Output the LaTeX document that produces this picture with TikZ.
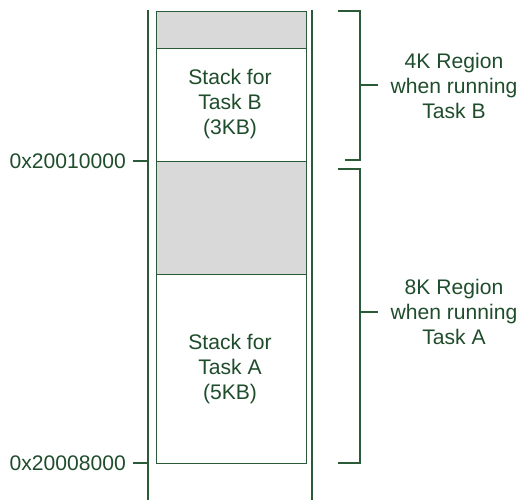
\documentclass[tikz,border=0pt]{standalone}
\usepackage{fontspec}
\setmainfont{Liberation Sans}
\definecolor{dg}{HTML}{2A5A38}
\definecolor{tg}{HTML}{1F4D2C}
\definecolor{gfill}{HTML}{D9D9D9}
\begin{document}
\begin{tikzpicture}[x=1pt,y=-1pt,
  ln/.style={draw=dg,line width=1.2pt},
  lbl/.style={text=tg,font=\fontsize{21.1}{25}\selectfont,align=center,inner sep=0pt},
]
\useasboundingbox (0,0) rectangle (529,500);
% outer lines
\coordinate (ot1) at (148,10); \coordinate (ob1) at (148,500);
\coordinate (ot2) at (312,10); \coordinate (ob2) at (312,500);
\draw[ln] (ot1) -- (ob1);
\draw[ln] (ot2) -- (ob2);
% boxes
\node[ln,fill=gfill,minimum width=150pt,minimum height=37pt,inner sep=0pt,anchor=north west] (gtop) at (155.5,11) {};
\node[ln,fill=white,minimum width=150pt,minimum height=113pt,inner sep=0pt,anchor=north west] (sb) at (155.5,48) {};
\node[ln,fill=gfill,minimum width=150pt,minimum height=113pt,inner sep=0pt,anchor=north west] (gmid) at (155.5,161) {};
\node[ln,fill=white,minimum width=150pt,minimum height=189pt,inner sep=0pt,anchor=north west] (sa) at (155.5,274) {};
\node[lbl] (tb) at (230,104) {Stack for\\Task B\\(3KB)};
\node[lbl] (ta) at (230,369) {Stack for\\Task A\\(5KB)};
% address ticks
\coordinate (a1) at (133,161); \coordinate (a1e) at (148,161);
\coordinate (a2) at (133,463); \coordinate (a2e) at (148,463);
\draw[ln] (a1) -- (a1e);
\draw[ln] (a2) -- (a2e);
\node[lbl,anchor=east] (l1) at (126,161) {0x20010000};
\node[lbl,anchor=east] (l2) at (126,463) {0x20008000};
% brace B
\coordinate (b1) at (338,11); \coordinate (b2) at (360,11);
\coordinate (b3) at (360,160); \coordinate (b4) at (345,160);
\coordinate (bm) at (360,85); \coordinate (bme) at (378,85);
\draw[ln] (b1) -- (b2) -- (b3) -- (b4);
\draw[ln] (bm) -- (bme);
\node[lbl] (rb) at (454,86) {4K Region\\when running\\Task B};
% brace A
\coordinate (c1) at (338,169); \coordinate (c2) at (360,169);
\coordinate (c3) at (360,463); \coordinate (c4) at (338,463);
\coordinate (cm) at (360,312); \coordinate (cme) at (378,312);
\draw[ln] (c1) -- (c2) -- (c3) -- (c4);
\draw[ln] (cm) -- (cme);
\node[lbl] (ra) at (454,312) {8K Region\\when running\\Task A};
\end{tikzpicture}
\end{document}
